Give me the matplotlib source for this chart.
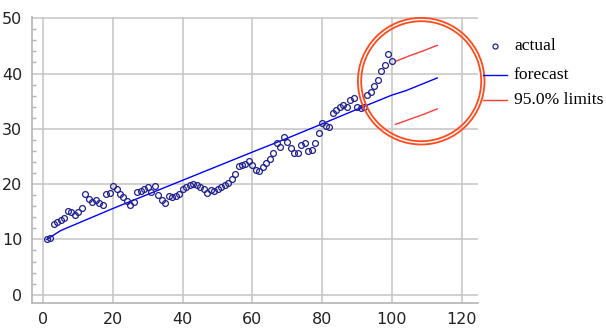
import numpy as np
import matplotlib
matplotlib.use("Agg")
import matplotlib.pyplot as plt
from matplotlib.patches import Ellipse
from matplotlib.lines import Line2D
from matplotlib.ticker import MultipleLocator

# observed series, t = 1..100
t_actual = np.arange(1, 101)
actual = [
    10.0, 10.3, 12.7, 13.1, 13.5, 13.9, 15.1, 14.9, 14.5, 14.9,
    15.7, 18.2, 17.3, 16.8, 17.1, 16.5, 16.2, 18.2, 18.4, 19.7,
    19.2, 18.3, 17.6, 17.0, 16.3, 16.8, 18.5, 18.8, 19.1, 19.5,
    18.6, 19.7, 18.0, 17.2, 16.5, 17.9, 17.6, 17.9, 18.3, 19.2,
    19.5, 19.8, 20.1, 19.8, 19.5, 19.2, 18.4, 18.9, 18.7, 19.1,
    19.4, 19.8, 20.2, 20.9, 21.8, 23.2, 23.4, 23.6, 24.1, 23.5,
    22.6, 22.3, 23.1, 23.8, 24.6, 25.6, 27.4, 26.8, 28.6, 27.7,
    26.5, 25.6, 25.7, 27.1, 27.4, 25.9, 26.2, 27.4, 29.3, 31.1,
    30.6, 30.4, 32.9, 33.4, 34.0, 34.3, 33.9, 35.2, 35.5, 33.9,
    33.8, 34.0, 36.1, 36.7, 37.7, 38.8, 40.5, 41.6, 43.5, 42.3,
]

# fitted values and forecast
t_forecast = [1, 5, 20, 40, 60, 70, 80, 91, 100, 104, 113]
forecast = [10.0, 11.6, 15.6, 20.7, 25.8, 28.3, 30.9, 33.8, 36.1, 36.9, 39.2]

# 95% limits on the forecast horizon
t_limits = [101, 105, 109, 113]
upper = [42.2, 43.2, 44.1, 45.1]
lower = [30.8, 31.7, 32.6, 33.6]

x_ticks = [0, 20, 40, 60, 80, 100, 120]
y_ticks = [0, 10, 20, 30, 40, 50]

W, H = 606, 329
fig = plt.figure(figsize=(W / 100, H / 100), dpi=100)
ax = fig.add_axes([32 / W, 1 - 302.7 / H, 446 / W, (302.7 - 16.6) / H])

navy = "#1f1f8f"
blue = "#0000ff"
red = "#ff3b3b"

ax.plot(t_actual, actual, linestyle="none", marker="o", markersize=4.2,
        markerfacecolor="none", markeredgecolor=navy, markeredgewidth=0.9, zorder=3)
ax.plot(t_forecast, forecast, color=blue, lw=1.0, zorder=2)
ax.plot(t_limits, upper, color=red, lw=1.0, zorder=2)
ax.plot(t_limits, lower, color=red, lw=1.0, zorder=2)

ax.set_xlim(-3.24, 124.7)
ax.set_ylim(-1.45, 50.3)
ax.set_xticks(x_ticks)
ax.set_yticks(y_ticks)
ax.yaxis.set_minor_locator(MultipleLocator(2))
ax.grid(True, which="major", color="#c8c8c8", lw=1.2)
ax.set_axisbelow(True)

for side in ["top", "right"]:
    ax.spines[side].set_visible(False)
for side in ["left", "bottom"]:
    ax.spines[side].set_color("#b4b4b4")
    ax.spines[side].set_linewidth(1.2)

tick_font = ["Liberation Sans Narrow", "DejaVu Sans"]
ax.tick_params(axis="both", which="major", length=0, labelsize=11.5, colors="#222222")
ax.tick_params(axis="x", pad=7)
ax.tick_params(axis="y", pad=7)
ax.tick_params(axis="y", which="minor", direction="in", length=3, color="#b4b4b4", width=1)
for lab in ax.get_xticklabels() + ax.get_yticklabels():
    lab.set_family(tick_font)

# legend drawn in figure pixels
def fx(px):
    return px / W

def fy(py):
    return 1 - py / H

serif = ["Liberation Serif", "DejaVu Serif"]
fig.add_artist(Line2D([fx(495)], [fy(46)], marker="o", markersize=3.6, markerfacecolor="none",
                      markeredgecolor=navy, markeredgewidth=0.9, transform=fig.transFigure))
fig.add_artist(Line2D([fx(483), fx(507)], [fy(75), fy(75)], color=blue, lw=1.0,
                      transform=fig.transFigure))
fig.add_artist(Line2D([fx(483), fx(507)], [fy(100), fy(100)], color=red, lw=1.0,
                      transform=fig.transFigure))
fig.text(fx(514), fy(46), "actual", family=serif, fontsize=12.6, va="center", ha="left")
fig.text(fx(514), fy(75), "forecast", family=serif, fontsize=12.6, va="center", ha="left")
fig.text(fx(514), fy(100), "95.0% limits", family=serif, fontsize=12.6, va="center", ha="left")

# double ring highlighting the forecast horizon
ring = "#ff4a1c"
for r in (63.3, 60.0):
    fig.add_artist(Ellipse((fx(421.2), fy(81.2)), 2 * r / W, 2 * r / H, fill=False,
                           edgecolor=ring, lw=1.3, transform=fig.transFigure))

fig.savefig("out.png", dpi=100)
